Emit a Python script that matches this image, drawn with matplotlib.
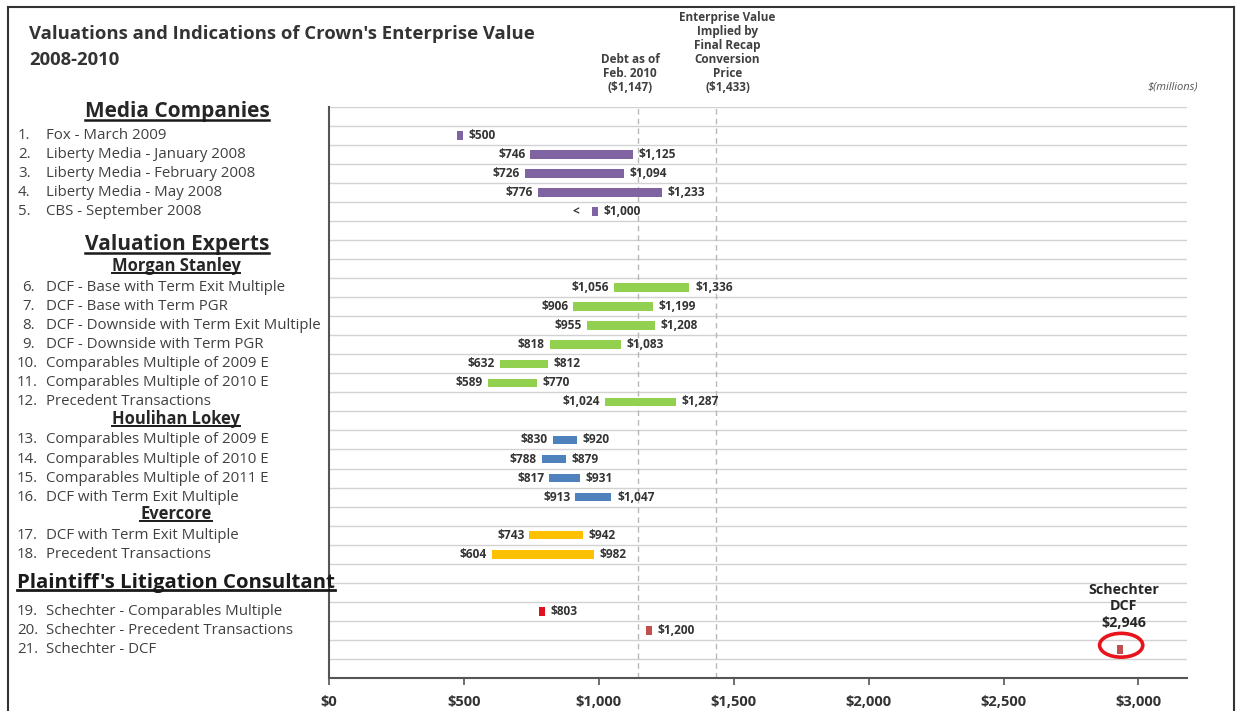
import matplotlib
matplotlib.use("Agg")
import matplotlib.pyplot as plt
from matplotlib import transforms
from matplotlib.patches import Ellipse
from matplotlib.lines import Line2D

plt.rcParams['font.family'] = ['Open Sans', 'DejaVu Sans']

# ---------------- data ----------------
row_names = [
    "Fox - March 2009", "Liberty Media - January 2008", "Liberty Media - February 2008",
    "Liberty Media - May 2008", "CBS - September 2008",
    "DCF - Base with Term Exit Multiple", "DCF - Base with Term PGR",
    "DCF - Downside with Term Exit Multiple", "DCF - Downside with Term PGR",
    "Comparables Multiple of 2009 E", "Comparables Multiple of 2010 E", "Precedent Transactions",
    "Comparables Multiple of 2009 E", "Comparables Multiple of 2010 E",
    "Comparables Multiple of 2011 E", "DCF with Term Exit Multiple",
    "DCF with Term Exit Multiple", "Precedent Transactions",
    "Schechter - Comparables Multiple", "Schechter - Precedent Transactions", "Schechter - DCF",
]
low_vals = [None, 746, 726, 776, None,
            1056, 906, 955, 818, 632, 589, 1024,
            830, 788, 817, 913,
            743, 604,
            None, None, None]
high_vals = [500, 1125, 1094, 1233, 1000,
             1336, 1199, 1208, 1083, 812, 770, 1287,
             920, 879, 931, 1047,
             942, 982,
             803, 1200, 2946]
row_groups = ['media'] * 5 + ['ms'] * 7 + ['hl'] * 4 + ['ev'] * 2 + ['sc_cm', 'sc', 'sc']
ref_values = [1147, 1433]
ref_texts = ["Debt as of\nFeb. 2010\n($1,147)",
             "Enterprise Value\nImplied by\nFinal Recap\nConversion\nPrice\n($1,433)"]
x_ticks = [0, 500, 1000, 1500, 2000, 2500, 3000]
title_lines = ["Valuations and Indications of Crown's Enterprise Value", "2008-2010"]
callout_text = "Schechter\nDCF\n$2,946"

# section / row layout (one entry per horizontal band)
layout = ([("h1", "Media Companies")] + [("row", i) for i in range(0, 5)] + [("blank", "")]
          + [("h1", "Valuation Experts"), ("h2", "Morgan Stanley")] + [("row", i) for i in range(5, 12)]
          + [("h2", "Houlihan Lokey")] + [("row", i) for i in range(12, 16)]
          + [("h2", "Evercore")] + [("row", 16), ("row", 17)]
          + [("blank", ""), ("h0", "Plaintiff's Litigation Consultant")]
          + [("row", i) for i in range(18, 21)] + [("blank", "")])

# ---------------- style ----------------
colors = {'media': '#8064A2', 'ms': '#92D050', 'hl': '#4F81BD', 'ev': '#FFC000',
          'sc_cm': '#E0101E', 'sc': '#C0504D'}
TXT = '#333333'
W, H = 1239, 711
MARK_W, MARK_GAP = 20, 4

fig = plt.figure(figsize=(W / 100, H / 100), dpi=100)
ax_top, ax_bot, ax_l, ax_r = 106.7, 678.0, 329, 1187
ax = fig.add_axes([ax_l / W, 1 - ax_bot / H, (ax_r - ax_l) / W, (ax_bot - ax_top) / H])
ax.patch.set_visible(False)

n_slots = len(layout)
ax.set_ylim(n_slots, 0)
ax.set_xlim(0, 3180)

for k in range(n_slots):
    ax.axhline(k, color='#d2d2d2', lw=1.0, zorder=0)

for v in ref_values:
    ax.axvline(v, color='#b8b8b8', lw=1.0, ls=(0, (4, 3)), zorder=1)

trans_lbl = transforms.blended_transform_factory(fig.transFigure, ax.transData)
header_texts = []
label_kw = dict(fontsize=10.8, color='#404040', va='center')
val_kw = dict(fontsize=8.6, fontweight='bold', color=TXT, va='center', textcoords='offset points')

for slot, (kind, item) in enumerate(layout):
    yc = slot + 0.5
    if kind == "row":
        i = item
        num_x = 17 if i >= 9 else (22 if i >= 5 else 18)
        ax.text(num_x / W, yc, f"{i + 1}.", transform=trans_lbl, **label_kw)
        ax.text(46 / W, yc, row_names[i], transform=trans_lbl, **label_kw)
        hi, lo = high_vals[i], low_vals[i]
        col = colors[row_groups[i]]
        if lo is None:
            left, width = hi - MARK_W - MARK_GAP, MARK_W
        else:
            left, width = lo, hi - lo
        ax.barh(yc, width, left=left, height=0.45, color=col, zorder=3)
        if i == len(row_names) - 1:
            # Schechter DCF call-out
            ax.add_patch(Ellipse((hi - 10, yc - 0.22), 160, 1.25, fill=False,
                                 edgecolor='#E8141B', lw=2.6, zorder=4, clip_on=False))
            ax.annotate(callout_text, xy=(hi, yc), xytext=(0, 31), textcoords='offset points',
                        ha='center', va='center', fontsize=10.3, fontweight='bold',
                        color='#262626', linespacing=1.25)
            continue
        ax.annotate(f"${hi:,}", xy=(left + width, yc), xytext=(4, 0), ha='left', **val_kw)
        if lo is not None:
            ax.annotate(f"${lo:,}", xy=(left, yc), xytext=(-3.6, 0), ha='right', **val_kw)
        elif i == 4:
            ax.annotate("<", xy=(left, yc), xytext=(-12, 0), ha='center', **val_kw)
    elif kind == "h1":
        t = ax.text(177 / W, slot + 0.55, item, transform=trans_lbl, ha='center', va='baseline',
                    fontsize=15, fontweight='bold', color='#262626')
        header_texts.append((t, 1.8, 2.5))
    elif kind == "h2":
        t = ax.text(176 / W, slot + 0.65, item, transform=trans_lbl, ha='center', va='baseline',
                    fontsize=11.9, fontweight='bold', color='#262626')
        header_texts.append((t, 1.4, 2.0))
    elif kind == "h0":
        t = ax.text(17 / W, slot + 0.25, item, transform=trans_lbl, ha='left', va='baseline',
                    fontsize=14.7, fontweight='bold', color='#1a1a1a')
        header_texts.append((t, 2.0, 2.5))

# reference line captions
for v, txt, dx in zip(ref_values, ref_texts, [-6, 8.5]):
    ax.annotate(txt, xy=(v, 0), xytext=(dx, 9), textcoords='offset points', ha='center',
                va='bottom', fontsize=8.5, fontweight='bold', color='#404040', linespacing=1.1)

# axes styling
for s in ['top', 'right']:
    ax.spines[s].set_visible(False)
for s in ['left', 'bottom']:
    ax.spines[s].set_color('#555555')
    ax.spines[s].set_linewidth(1.5)
ax.set_yticks([])
ax.set_xticks(x_ticks)
ax.set_xticklabels([f"${t:,}" for t in x_ticks], fontsize=10.5, fontweight='bold', color=TXT)
ax.tick_params(axis='x', direction='out', length=5, width=1.2, color='#555555', pad=7)

# titles and notes
fig.text(29 / W, 1 - 34 / H, title_lines[0], fontsize=13.3, fontweight='bold', color='#333333',
         va='center', ha='left')
fig.text(29 / W, 1 - 60 / H, title_lines[1], fontsize=13.3, fontweight='bold', color='#333333',
         va='center', ha='left')
fig.text(1173 / W, 1 - 87 / H, "$(millions)", fontsize=8, style='italic', color='#555555',
         ha='center', va='center')

# outer frame
ident = transforms.IdentityTransform()
for xs, ys in [([8, 8], [0, H - 7]), ([8, 1234], [H - 7, H - 7]), ([1234, 1234], [0, H - 7])]:
    fig.add_artist(Line2D(xs, ys, transform=ident, color='#333333', lw=1.5))

# underline the section headers
fig.canvas.draw()
renderer = fig.canvas.get_renderer()
for t, lw, off in header_texts:
    bb = t.get_window_extent(renderer)
    _, yb = t.get_transform().transform(t.get_position())
    fig.add_artist(Line2D([bb.x0, bb.x1], [yb - off, yb - off], transform=ident,
                          color='#1a1a1a', lw=lw))

fig.savefig("out.png", dpi=100)
